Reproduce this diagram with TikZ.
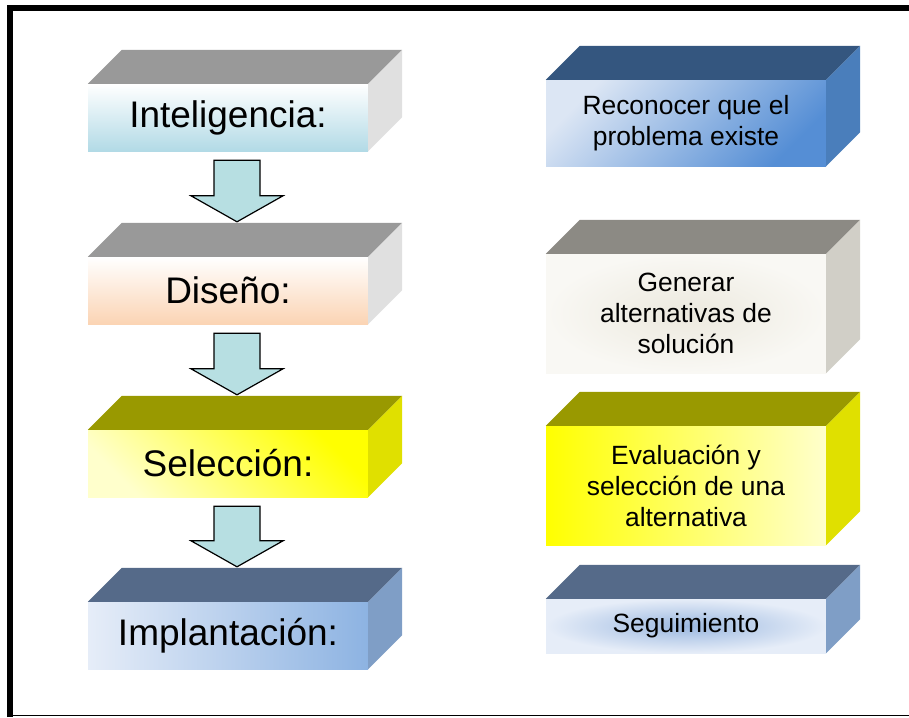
\documentclass[tikz,border=0pt]{standalone}
\usepackage{fontspec}
\setmainfont{Liberation Sans}
\usepackage{xcolor}
\usepackage{tikz}
\usetikzlibrary{calc}
\definecolor{graytop}{HTML}{999999}
\definecolor{grayside}{HTML}{E0E0E0}
\definecolor{olivetop}{HTML}{999900}
\definecolor{oliveside}{HTML}{E0E000}
\definecolor{slatetop}{HTML}{556A89}
\definecolor{slateside}{HTML}{7F9EC6}
\definecolor{bluetop}{HTML}{34567F}
\definecolor{blueside}{HTML}{4A7EBB}
\definecolor{stonetop}{HTML}{8C8A84}
\definecolor{stoneside}{HTML}{D1CFC7}
\definecolor{iceblue}{HTML}{B2DAE6}
\definecolor{peach}{HTML}{FBD4B4}
\definecolor{paleyellow}{HTML}{FFFFCC}
\definecolor{lightslate}{HTML}{E6EDF8}
\definecolor{midslate}{HTML}{8DB3E2}
\definecolor{palesky}{HTML}{DCE6F4}
\definecolor{deepsky}{HTML}{558ED5}
\definecolor{offwhite}{HTML}{F9F8F4}
\definecolor{linen}{HTML}{ECE9DE}
\definecolor{glowblue}{HTML}{9BB8E0}
\definecolor{arrowfill}{HTML}{B7DFE2}
\tikzset{
    stage/.style={rectangle, minimum width=280pt, minimum height=67pt, inner sep=0pt, text centered, font=\fontsize{37}{44}\selectfont},
    task/.style={rectangle, minimum width=280pt, inner sep=0pt, align=center, font=\fontsize{26.4}{31}\selectfont},
    flowarrow/.style={draw=black, line width=1.2pt, fill=arrowfill, line join=miter}
}
\begin{document}
\begin{tikzpicture}[x=1pt, y=-1pt]
    \useasboundingbox (0,0) rectangle (909,717);
    % Frame
    \draw[line width=6pt] (10,717) -- (10,8) -- (909,8);
    \draw[line width=1.2pt] (10,715.5) -- (909,715.5);
    % Process stages
    \node[stage, top color=white, bottom color=iceblue] (intel) at (228,117.5) {Inteligencia:};
    \node[stage, top color=white, bottom color=peach] (diseno) at (228,290.5) {Diseño:};
    \node[stage, top color=yellow, bottom color=paleyellow, shading angle=-45] (seleccion) at (228,463.5) {Selección:};
    \node[stage, left color=lightslate, right color=midslate] (implant) at (228,635.5) {Implantación:};
    % Descriptions
    \node[task, minimum height=86pt, top color=palesky, bottom color=deepsky, shading angle=45] (reconocer) at (686,123) {Reconocer que el\\problema existe};
    \node[task, minimum height=119pt, inner color=linen, outer color=offwhite] (generar) at (686,313.5) {Generar\\alternativas de\\solución};
    \node[task, minimum height=119pt, left color=yellow, right color=paleyellow] (evaluacion) at (686,485.5) {Evaluación y\\selección de una\\alternativa};
    \node[task, minimum height=54pt, inner color=glowblue, outer color=lightslate] (seguimiento) at (686,626) {Seguimiento};
    % Box depth
    \foreach \n/\tc/\sc in {intel/graytop/grayside, diseno/graytop/grayside, seleccion/olivetop/oliveside, implant/slatetop/slateside, reconocer/bluetop/blueside, generar/stonetop/stoneside, evaluacion/olivetop/oliveside, seguimiento/slatetop/slateside}{
        \fill[\tc] (\n.north west) -- ([shift={(34,-34)}]\n.north west) -- ([shift={(34,-34)}]\n.north east) -- (\n.north east) -- cycle;
        \fill[\sc] (\n.north east) -- ([shift={(34,-34)}]\n.north east) -- ([shift={(34,-34)}]\n.south east) -- (\n.south east) -- cycle;
    }
    % Flows
    \foreach \a/\b in {intel/diseno, diseno/seleccion, seleccion/implant}
        \draw[flowarrow] let \p1=(\a.south), \p2=(\b.north) in
            (\x1-14pt,\y1-9pt) -- (\x1+32pt,\y1-9pt) -- (\x1+32pt,\y2+61pt) -- (\x1+55pt,\y2+61pt)
            -- (\x1+9pt,\y2+35pt) -- (\x1-37pt,\y2+61pt) -- (\x1-14pt,\y2+61pt) -- cycle;
\end{tikzpicture}
\end{document}
